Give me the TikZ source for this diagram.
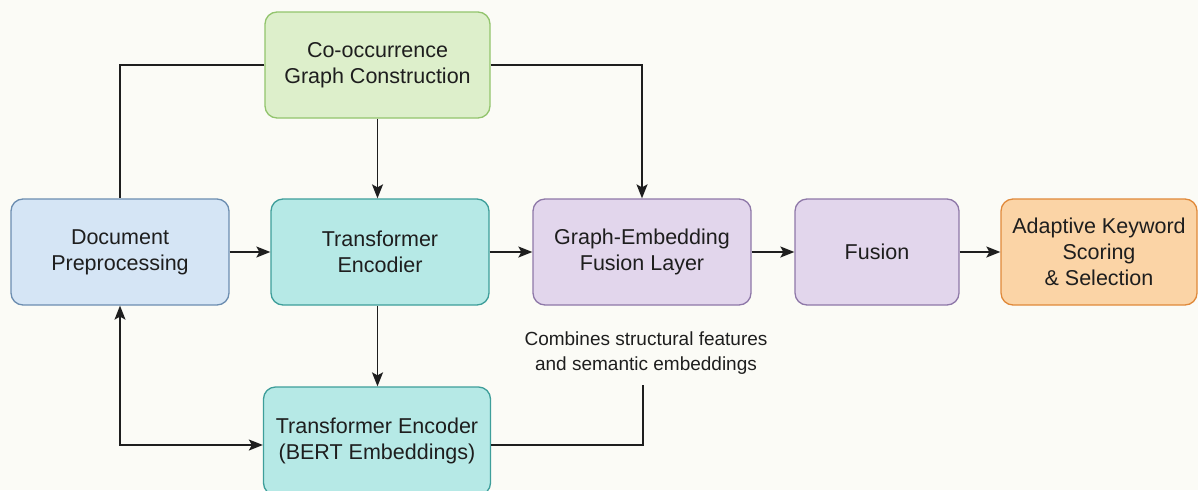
\documentclass[tikz,border=0pt]{standalone}
\usepackage{fontspec}
\setmainfont{Liberation Sans}
\usetikzlibrary{arrows.meta}
\definecolor{bgcol}{HTML}{FBFBF6}
\definecolor{blueF}{HTML}{D5E5F5}
\definecolor{blueD}{HTML}{6C8DB0}
\definecolor{tealF}{HTML}{B6E9E6}
\definecolor{tealD}{HTML}{3E9E9A}
\definecolor{greenF}{HTML}{DDEFCB}
\definecolor{greenD}{HTML}{92C46D}
\definecolor{lilacF}{HTML}{E2D6EC}
\definecolor{lilacD}{HTML}{8E78A8}
\definecolor{orangeF}{HTML}{FBD4A6}
\definecolor{orangeD}{HTML}{E0893A}
\definecolor{ink}{HTML}{1E1E1E}
\begin{document}
\begin{tikzpicture}[x=1pt,y=-1pt,
  box/.style={draw, rounded corners=12pt, line width=1.3pt, align=center,
    text=ink, font=\fontsize{21.5}{26}\selectfont, inner sep=0pt, minimum height=106pt},
  link/.style={line width=1.4pt, draw=ink},
  tip/.tip={Stealth[length=14pt,width=11pt,inset=3pt]},
  arr/.style={link, -tip}]
  \useasboundingbox (0,0) rectangle (1198,490);
  \clip (0,0) rectangle (1198,490);
  \fill[bgcol] (0,0) rectangle (1198,490);

  % processing stages
  \node[box, fill=greenF, draw=greenD, minimum width=225pt] (cooc) at (377.5,65)
    {Co-occurrence\\Graph Construction};
  \node[box, fill=blueF, draw=blueD, minimum width=218pt] (doc) at (120,252)
    {Document\\Preprocessing};
  \node[box, fill=tealF, draw=tealD, minimum width=218pt] (enc) at (380,252)
    {Transformer\\Encodier};
  \node[box, fill=lilacF, draw=lilacD, minimum width=218pt] (gef) at (642,252)
    {Graph-Embedding\\Fusion Layer};
  \node[box, fill=lilacF, draw=lilacD, minimum width=164pt] (fus) at (877,252)
    {Fusion};
  \node[box, fill=orangeF, draw=orangeD, minimum width=196pt] (ada) at (1099,252)
    {Adaptive Keyword\\Scoring\\\& Selection};
  \node[box, fill=tealF, draw=tealD, minimum width=227pt, minimum height=108pt] (bert) at (377,441)
    {Transformer Encoder\\(BERT Embeddings)};

  % annotation
  \node[align=center, text=ink, font=\fontsize{19}{25}\selectfont] (note) at (646,353)
    {Combines structural features\\and semantic embeddings};
  \coordinate (noteend) at (643,385);

  % connectors
  \draw[link] (cooc.west) -| (doc.north);
  \draw[arr] (cooc.east) -| (gef.north);
  \draw[arr] (cooc.south) -- (cooc.south |- enc.north);
  \draw[arr] (doc) -- (enc);
  \draw[arr] (enc) -- (gef);
  \draw[arr] (gef) -- (fus);
  \draw[arr] (fus) -- (ada);
  \draw[arr] (cooc.south |- enc.south) -- (cooc.south |- bert.north);
  \draw[link, tip-tip] (doc.south) |- ([yshift=-4pt]bert.west);
  \draw[link] ([yshift=-4pt]bert.east) -| (noteend);
\end{tikzpicture}
\end{document}
